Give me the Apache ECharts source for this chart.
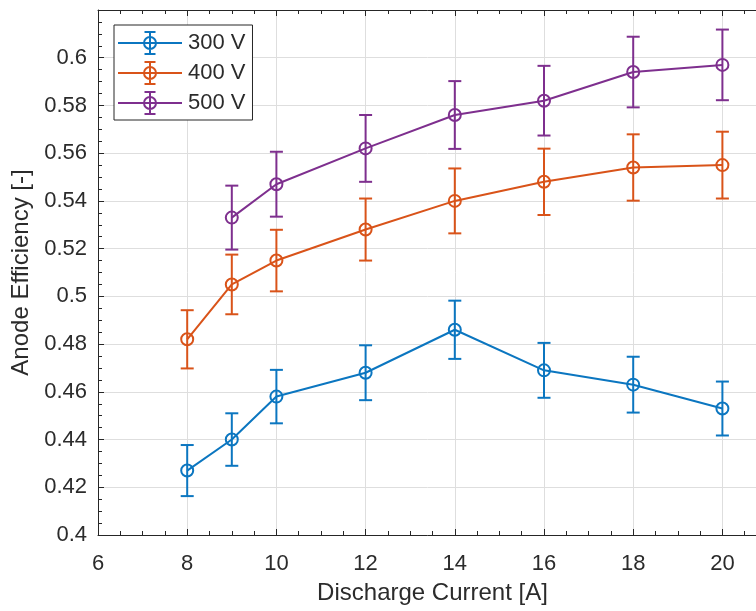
<!DOCTYPE html>
<html>
<head>
<meta charset="utf-8">
<title>Anode Efficiency vs Discharge Current</title>
<script src="https://cdn.jsdelivr.net/npm/echarts@6/dist/echarts.min.js"></script>
<style>
  html, body { margin: 0; padding: 0; background: #ffffff; }
  #chart { width: 756px; height: 611px; }
</style>
</head>
<body>
<div id="chart"></div>
<script>
// Discharge current [A] and anode efficiency with ± error for each discharge voltage
const current300 = [8, 9, 10, 12, 14, 16, 18, 20];
const efficiency300 = [0.427, 0.440, 0.458, 0.468, 0.486, 0.469, 0.463, 0.453];
const error300 = [0.0107, 0.0110, 0.0112, 0.0115, 0.0122, 0.0115, 0.0117, 0.0113];

const current400 = [8, 9, 10, 12, 14, 16, 18, 20];
const efficiency400 = [0.482, 0.505, 0.515, 0.528, 0.540, 0.548, 0.554, 0.555];
const error400 = [0.0122, 0.0125, 0.0129, 0.0130, 0.0136, 0.0139, 0.0139, 0.0140];

const current500 = [9, 10, 12, 14, 16, 18, 20];
const efficiency500 = [0.533, 0.547, 0.562, 0.576, 0.582, 0.594, 0.597];
const error500 = [0.0134, 0.0136, 0.0140, 0.0142, 0.0146, 0.0148, 0.0148];

const seriesNames = ['300 V', '400 V', '500 V'];

// Axis ranges and ticks
const xMin = 6, xMax = 21, xStep = 2;
const yMin = 0.4, yMax = 0.62, yStep = 0.02;

// Styling
const FONT = '"Liberation Sans", Arial, Helvetica, sans-serif';
const TEXT = '#2b2b2b';
const AXIS = '#262626';
const GRIDLINE = '#dedede';
const COLORS = ['#0B76C0', '#D95319', '#7E2F8E'];
const LW = 2;        // line / marker stroke width
const CAP = 6.5;     // half width of error bar caps
const R = 6;         // marker radius

// Legend icon: line with hollow circle and vertical error bar (64 x 24 box)
const LEGEND_ICON = 'path://' +
  'M0 11H64V13H0Z' +
  'M31 0H33V24H31Z' +
  'M26.5 0H37.5V2H26.5Z' +
  'M26.5 22H37.5V24H26.5Z' +
  'M39 12A7 7 0 1 1 25 12A7 7 0 1 1 39 12Z' +
  'M37 12A5 5 0 1 0 27 12A5 5 0 1 0 37 12Z';

function pairs(xs, ys) {
  return xs.map((x, i) => [x, ys[i]]);
}
function triples(xs, ys, es) {
  return xs.map((x, i) => [x, ys[i], es[i]]);
}

function renderErrorBar(params, api) {
  const x = api.value(0), y = api.value(1), e = api.value(2);
  const c = api.coord([x, y]);
  const hi = api.coord([x, y + e]);
  const lo = api.coord([x, y - e]);
  const color = api.visual('color');
  const st = { stroke: color, lineWidth: LW, fill: 'none' };
  return {
    type: 'group',
    children: [
      { type: 'line', shape: { x1: c[0], y1: hi[1], x2: c[0], y2: lo[1] }, style: st },
      { type: 'line', shape: { x1: c[0] - CAP, y1: hi[1], x2: c[0] + CAP, y2: hi[1] }, style: st },
      { type: 'line', shape: { x1: c[0] - CAP, y1: lo[1], x2: c[0] + CAP, y2: lo[1] }, style: st },
      { type: 'circle', shape: { cx: c[0], cy: c[1], r: R }, style: st }
    ]
  };
}

const groups = [
  [current300, efficiency300, error300],
  [current400, efficiency400, error400],
  [current500, efficiency500, error500]
];

const lineSeries = groups.map((g, i) => ({
  name: seriesNames[i],
  type: 'line',
  xAxisIndex: 0,
  yAxisIndex: 0,
  data: pairs(g[0], g[1]),
  color: COLORS[i],
  symbol: 'none',
  showSymbol: false,
  lineStyle: { color: COLORS[i], width: LW },
  itemStyle: { color: COLORS[i] },
  z: 3,
  animation: false
}));

const barSeries = groups.map((g, i) => ({
  name: seriesNames[i],
  type: 'custom',
  xAxisIndex: 0,
  yAxisIndex: 0,
  data: triples(g[0], g[1], g[2]),
  color: COLORS[i],
  itemStyle: { color: COLORS[i] },
  renderItem: renderErrorBar,
  encode: { x: 0, y: 1 },
  z: 4,
  animation: false
}));

const chart = echarts.init(document.getElementById('chart'), null, { renderer: 'canvas' });

chart.setOption({
  backgroundColor: '#ffffff',
  animation: false,
  textStyle: { fontFamily: FONT, color: TEXT },
  grid: {
    left: 98, top: 10, right: -11, bottom: 76,
    containLabel: false,
    outerBoundsMode: 'none',
    show: false
  },
  legend: {
    data: seriesNames,
    orient: 'vertical',
    left: 114,
    top: 25,
    padding: [6, 7, 5, 4],
    itemGap: 6,
    itemWidth: 64,
    itemHeight: 24,
    icon: LEGEND_ICON,
    itemStyle: { borderWidth: 0 },
    textStyle: { fontFamily: FONT, fontSize: 22, color: TEXT, padding: [0, 0, 0, 1] },
    backgroundColor: '#ffffff',
    borderColor: AXIS,
    borderWidth: 1,
    borderRadius: 0,
    selectedMode: false,
    z: 10
  },
  xAxis: [
    {
      type: 'value',
      position: 'bottom',
      min: xMin, max: xMax, interval: xStep,
      name: 'Discharge Current [A]',
      nameLocation: 'middle',
      nameGap: 46,
      nameTextStyle: { fontFamily: FONT, fontSize: 24, color: TEXT },
      axisLine: { show: true, onZero: false, lineStyle: { color: AXIS, width: 1 } },
      axisTick: { show: true, inside: true, length: 6, lineStyle: { color: AXIS, width: 1 } },
      minorTick: { show: true, splitNumber: 4, length: 4, lineStyle: { color: AXIS, width: 1 } },
      axisLabel: { show: true, margin: 18, fontFamily: FONT, fontSize: 22, color: TEXT, showMaxLabel: false },
      splitLine: { show: true, lineStyle: { color: GRIDLINE, width: 1 } },
      minorSplitLine: { show: false }
    },
    {
      type: 'value',
      position: 'top',
      min: xMin, max: xMax, interval: xStep,
      axisLine: { show: true, onZero: false, lineStyle: { color: AXIS, width: 1 } },
      axisTick: { show: true, inside: true, length: 6, lineStyle: { color: AXIS, width: 1 } },
      minorTick: { show: true, splitNumber: 4, length: 4, lineStyle: { color: AXIS, width: 1 } },
      axisLabel: { show: false },
      splitLine: { show: false }
    }
  ],
  yAxis: [
    {
      type: 'value',
      position: 'left',
      min: yMin, max: yMax, interval: yStep,
      name: 'Anode Efficiency [-]',
      nameLocation: 'middle',
      nameGap: 58,
      nameTextStyle: { fontFamily: FONT, fontSize: 24, color: TEXT },
      axisLine: { show: true, onZero: false, lineStyle: { color: AXIS, width: 1 } },
      axisTick: { show: true, inside: true, length: 6, lineStyle: { color: AXIS, width: 1 } },
      minorTick: { show: true, splitNumber: 4, length: 4, lineStyle: { color: AXIS, width: 1 } },
      axisLabel: { show: true, margin: 11, fontFamily: FONT, fontSize: 22, color: TEXT, showMaxLabel: false },
      splitLine: { show: true, lineStyle: { color: GRIDLINE, width: 1 } },
      minorSplitLine: { show: false }
    }
  ],
  series: lineSeries.concat(barSeries)
});
</script>
</body>
</html>
